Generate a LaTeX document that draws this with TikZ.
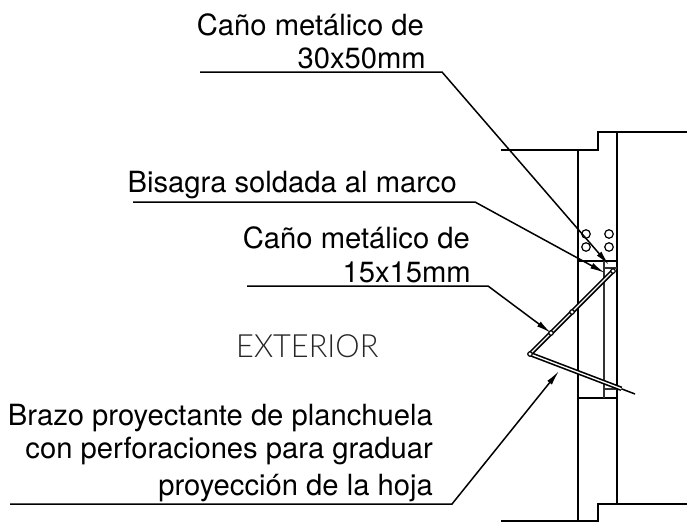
\documentclass[tikz,border=0pt]{standalone}
\usepackage{fontspec}
\setmainfont{TeX Gyre Heros}
\newfontfamily\extfont[FakeStretch=0.96]{Lato Light}
\usetikzlibrary{arrows.meta,calc}
\tikzset{
 wall/.style={line width=1.7pt,line join=miter},
 thin part/.style={line width=1.2pt,black!80},
 leader/.style={line width=1.5pt,-{Latex[length=15pt,width=6pt]}},
 label/.style={inner sep=0pt,anchor=base east,font=\fontsize{29.2}{29.2}\selectfont},
 hole/.style={circle,draw,line width=1.2pt,minimum size=8.5pt,inner sep=0pt}
}
\begin{document}
\begin{tikzpicture}[x=1pt,y=-1pt]
\useasboundingbox (0,0) rectangle (687,522);
\draw[wall] (501,150) -- (598,150) -- (598,132) -- (687,132);
\draw[wall] (501,521) -- (598,521) -- (598,504) -- (687,504);
\draw[wall] (578,150) -- (578,521);
\draw[wall] (617,132) -- (617,504);
\draw[wall] (578,261) -- (617,261);
\draw[wall] (578,398) -- (617,398);
\draw[thin part] (604,261) -- (604,398);
\draw[thin part] (604,268) -- (617,268);
\draw[thin part] (604,389) -- (617,389);
\node[hole] (h1) at (586,234) {};
\node[hole] (h2) at (609,234) {};
\node[hole] (h3) at (586,247) {};
\node[hole] (h4) at (609,247) {};
\coordinate (top) at (613,271);
\coordinate (apex) at (530,354);
\coordinate (tail) at (635,394);
\draw[line width=4.6pt,line join=round] (top) -- (apex) -- ($(apex)!0.87!(tail)$);
\draw[line width=1.5pt] (apex) -- (tail);
\draw[line width=1.3pt,white,line join=round] (top) -- (apex) -- ($(apex)!0.87!(tail)$);
\foreach \p/\q in {613/271,572/312,551/333,530/354}
  \node[circle,draw,fill=white,line width=1.2pt,minimum size=4.5pt,inner sep=0pt] at (\p,\q) {};
\node[label] (t1a) at (424,35) {Caño metálico de};
\node[label] (t1b) at (426,68) {30x50mm};
\node[label] (t2) at (457,192) {Bisagra soldada al marco};
\node[label] (t3a) at (470,248) {Caño metálico de};
\node[label] (t3b) at (471,282) {15x15mm};
\node[label] (t4a) at (433,425) {Brazo proyectante de planchuela};
\node[label] (t4b) at (433,458) {con perforaciones para graduar};
\node[label] (t4c) at (433,495) {proyección de la hoja};
\node[inner sep=0pt,anchor=base west,font=\extfont\fontsize{32}{32}\selectfont,black!85] (ext) at (236,357) {EXTERIOR};
\coordinate (a0) at (200,72); \coordinate (a1) at (442,72); \coordinate (a2) at (609,265);
\coordinate (b0) at (133,202); \coordinate (b1) at (475,202); \coordinate (b2) at (605,273);
\coordinate (c0) at (247,286); \coordinate (c1) at (488,286); \coordinate (c2) at (551,333);
\coordinate (d0) at (10,504); \coordinate (d1) at (452,504); \coordinate (d2) at (559,371);
\draw[leader] (a0) -- (a1) -- (a2);
\draw[leader] (b0) -- (b1) -- (b2);
\draw[leader] (c0) -- (c1) -- (c2);
\draw[leader] (d0) -- (d1) -- (d2);
\end{tikzpicture}
\end{document}
